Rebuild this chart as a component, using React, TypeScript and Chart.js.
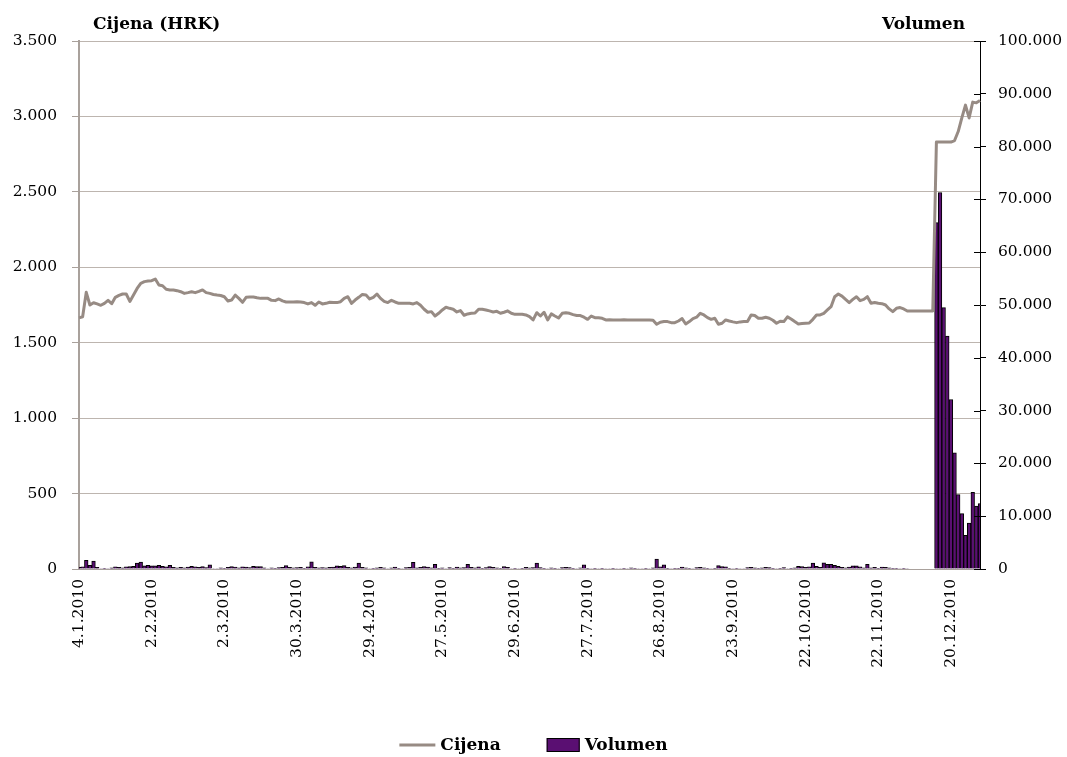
import { useEffect, useRef } from "react";
import { Chart, registerables } from "chart.js";

Chart.register(...registerables);

// x-axis tick labels, one every 20 trading days
const tickLabels = [
  "4.1.2010", "2.2.2010", "2.3.2010", "30.3.2010", "29.4.2010", "27.5.2010", "29.6.2010",
  "27.7.2010", "26.8.2010", "23.9.2010", "22.10.2010", "22.11.2010", "20.12.2010",
];

// daily closing price (HRK)
const cijena = [
  1665, 1672, 1834, 1750, 1765, 1757, 1748, 1761, 1781, 1759,
  1801, 1814, 1823, 1823, 1774, 1816, 1860, 1894, 1905, 1909,
  1911, 1922, 1883, 1878, 1854, 1850, 1850, 1845, 1838, 1827,
  1832, 1838, 1832, 1840, 1850, 1832, 1827, 1820, 1816, 1813,
  1805, 1777, 1783, 1816, 1794, 1768, 1801, 1803, 1803, 1798,
  1794, 1794, 1794, 1781, 1779, 1790, 1777, 1770, 1770, 1770,
  1772, 1770, 1766, 1757, 1766, 1748, 1770, 1757, 1761, 1768,
  1766, 1766, 1772, 1794, 1805, 1761, 1783, 1801, 1820, 1816,
  1790, 1801, 1823, 1794, 1774, 1766, 1781, 1770, 1761, 1761,
  1761, 1761, 1757, 1766, 1748, 1722, 1702, 1706, 1677, 1695,
  1717, 1735, 1728, 1722, 1704, 1713, 1682, 1691, 1695, 1697,
  1722, 1722, 1717, 1711, 1704, 1708, 1695, 1702, 1711, 1695,
  1688, 1688, 1688, 1684, 1673, 1651, 1699, 1677, 1702, 1651,
  1691, 1677, 1664, 1695, 1699, 1695, 1686, 1680, 1680, 1669,
  1655, 1677, 1666, 1666, 1662, 1651, 1652, 1651, 1650, 1651,
  1652, 1651, 1650, 1650, 1651, 1651, 1651, 1650, 1649, 1622,
  1636, 1640, 1640, 1633, 1633, 1644, 1660, 1624, 1640, 1660,
  1669, 1695, 1684, 1666, 1655, 1662, 1622, 1629, 1651, 1644,
  1638, 1633, 1638, 1640, 1640, 1684, 1680, 1662, 1662, 1669,
  1662, 1649, 1629, 1642, 1640, 1671, 1657, 1640, 1624, 1627,
  1629, 1631, 1655, 1684, 1684, 1695, 1717, 1739, 1805, 1823,
  1809, 1787, 1766, 1787, 1805, 1779, 1787, 1805, 1761, 1766,
  1761, 1759, 1750, 1724, 1706, 1728, 1733, 1724, 1710, 1710,
  1710, 1710, 1710, 1710, 1710, 1710, 2830, 2830, 2830, 2830,
  2830, 2840, 2900, 2990, 3075, 2990, 3095, 3090, 3105,
];

// daily traded volume (shares)
const volumen = [
  300, 400, 1650, 700, 1500, 300, 100, 150, 100, 200,
  400, 300, 200, 400, 450, 500, 1100, 1300, 600, 700,
  600, 600, 700, 500, 400, 700, 300, 200, 300, 200,
  350, 500, 400, 300, 450, 250, 800, 100, 100, 200,
  150, 300, 450, 350, 200, 400, 350, 250, 500, 450,
  450, 200, 100, 200, 150, 250, 300, 650, 300, 200,
  250, 300, 150, 400, 1350, 300, 200, 250, 200, 300,
  350, 600, 500, 650, 300, 200, 350, 1100, 300, 200,
  100, 150, 200, 300, 200, 100, 200, 350, 150, 100,
  250, 300, 1250, 200, 300, 450, 350, 200, 900, 150,
  200, 100, 250, 150, 350, 200, 250, 900, 300, 200,
  400, 150, 250, 450, 300, 200, 150, 450, 300, 100,
  150, 100, 150, 300, 200, 250, 1100, 250, 150, 100,
  200, 150, 100, 250, 300, 250, 150, 100, 200, 800,
  150, 100, 150, 100, 150, 100, 100, 150, 100, 100,
  150, 100, 200, 150, 100, 100, 150, 100, 200, 1900,
  400, 800, 150, 100, 150, 150, 350, 200, 150, 100,
  250, 300, 200, 150, 100, 150, 650, 450, 400, 150,
  100, 150, 100, 100, 250, 300, 200, 150, 200, 300,
  250, 150, 100, 150, 250, 100, 150, 200, 500, 450,
  300, 400, 1100, 500, 300, 1150, 900, 900, 700, 500,
  300, 200, 350, 600, 600, 400, 200, 900, 200, 300,
  150, 350, 300, 200, 150, 150, 100, 150, 100, 0,
  0, 0, 0, 0, 0, 0, 65600, 71300, 49500, 44100,
  32100, 22000, 14100, 10500, 6400, 8700, 14500, 11900, 12400,
];

const categories = cijena.map((_, i) => (i % 20 === 0 ? tickLabels[i / 20] : ""));

const SERIF = "'DejaVu Serif', 'Liberation Serif', serif";
const LINE = "#978b84";
const PURPLE = "#5a0f72";
const GRID = "#bdb5af";
const AXIS = "#a9a19c";

const fmt = (v: number) => String(v).replace(/\B(?=(\d{3})+(?!\d))/g, ".");

const overlay = {
  id: "overlay",
  afterDraw(chart: any) {
    const { ctx, chartArea } = chart;
    const y1 = chart.scales.y1;
    ctx.save();

    // right axis ticks also cross into the plot
    ctx.strokeStyle = "#000";
    ctx.lineWidth = 1;
    y1.ticks.forEach((_: any, i: number) => {
      const py = Math.round(y1.getPixelForTick(i)) + 0.5;
      ctx.beginPath();
      ctx.moveTo(chartArea.right - 6, py);
      ctx.lineTo(chartArea.right, py);
      ctx.stroke();
    });

    // axis titles
    ctx.fillStyle = "#000";
    ctx.font = `bold 17px ${SERIF}`;
    ctx.textBaseline = "middle";
    ctx.textAlign = "left";
    ctx.fillText("Cijena (HRK)", chartArea.left + 14, 25);
    ctx.textAlign = "right";
    ctx.fillText("Volumen", chartArea.right - 15, 25);

    // legend
    const [ds0, ds1] = chart.data.datasets;
    const w1 = ctx.measureText(ds0.label).width;
    const w2 = ctx.measureText(ds1.label).width;
    const lineW = 36, boxW = 33, gapT = 5, gapI = 46;
    const total = lineW + gapT + w1 + gapI + boxW + gapT + w2;
    let x = chart.width / 2 - total / 2;
    const ly = 745;
    ctx.textAlign = "left";
    ctx.strokeStyle = LINE;
    ctx.lineWidth = 3;
    ctx.beginPath();
    ctx.moveTo(x, ly);
    ctx.lineTo(x + lineW, ly);
    ctx.stroke();
    x += lineW + gapT;
    ctx.fillText(ds0.label, x, ly + 1);
    x += w1 + gapI;
    ctx.fillStyle = PURPLE;
    ctx.fillRect(x, ly - 7, boxW, 14);
    ctx.strokeStyle = "#000";
    ctx.lineWidth = 1;
    ctx.strokeRect(x + 0.5, ly - 6.5, boxW - 1, 13);
    x += boxW + gapT;
    ctx.fillStyle = "#000";
    ctx.fillText(ds1.label, x, ly + 1);

    ctx.restore();
  },
};

export default function App() {
  const chartRef = useRef<HTMLCanvasElement>(null);
  const chartInstance = useRef<Chart | null>(null);

  useEffect(() => {
    document.body.style.margin = "0";
    if (!chartRef.current) return;
    if (chartInstance.current) chartInstance.current.destroy();
    const ctx = chartRef.current.getContext("2d");
    if (!ctx) return;

    chartInstance.current = new Chart(ctx, {
      data: {
        labels: categories,
        datasets: [
          {
            type: "line",
            label: "Cijena",
            data: cijena,
            yAxisID: "y",
            borderColor: LINE,
            borderWidth: 3,
            pointRadius: 0,
            tension: 0,
            borderJoinStyle: "round",
            order: 0,
          },
          {
            type: "bar",
            label: "Volumen",
            data: volumen,
            yAxisID: "y1",
            backgroundColor: PURPLE,
            borderColor: "#000",
            borderWidth: 1,
            barPercentage: 1,
            categoryPercentage: 1,
            order: 1,
          },
        ],
      } as any,
      options: {
        animation: false,
        responsive: true,
        maintainAspectRatio: false,
        layout: { padding: { top: 41, left: 0, right: 0, bottom: 0 } },
        plugins: { legend: { display: false }, tooltip: { enabled: false } },
        scales: {
          x: {
            type: "category",
            offset: false,
            afterFit: (s: any) => { s.height = 188; },
            grid: {
              drawOnChartArea: false,
              tickLength: 6,
              color: (c: any) => (c.index % 20 === 0 ? AXIS : "rgba(0,0,0,0)"),
            },
            border: { color: AXIS, width: 1 },
            ticks: {
              autoSkip: false,
              minRotation: 90,
              maxRotation: 90,
              padding: 4,
              color: "#000",
              font: { family: SERIF, size: 15.5 },
              callback: (_v: any, i: number) => (categories[i] ? categories[i] : null),
            },
          },
          y: {
            position: "left",
            min: 0,
            max: 3500,
            afterFit: (s: any) => { s.width = 79; },
            grid: { color: GRID, tickLength: 7, tickColor: AXIS },
            border: { color: AXIS, width: 2 },
            ticks: {
              stepSize: 500,
              padding: 15,
              color: "#000",
              font: { family: SERIF, size: 15.5 },
              callback: (v: any) => fmt(Number(v)),
            },
          },
          y1: {
            position: "right",
            min: 0,
            max: 100000,
            afterFit: (s: any) => { s.width = 87; },
            grid: { drawOnChartArea: false, color: "#000", tickLength: 6 },
            border: { color: "#000", width: 1 },
            ticks: {
              stepSize: 10000,
              padding: 12,
              color: "#000",
              font: { family: SERIF, size: 15.5 },
              callback: (v: any) => fmt(Number(v)),
            },
          },
        },
      } as any,
      plugins: [overlay],
    });

    return () => {
      if (chartInstance.current) {
        chartInstance.current.destroy();
        chartInstance.current = null;
      }
    };
  }, []);

  return (
    <div style={{ position: "relative", width: 1067, height: 757 }}>
      <canvas ref={chartRef}></canvas>
    </div>
  );
}
